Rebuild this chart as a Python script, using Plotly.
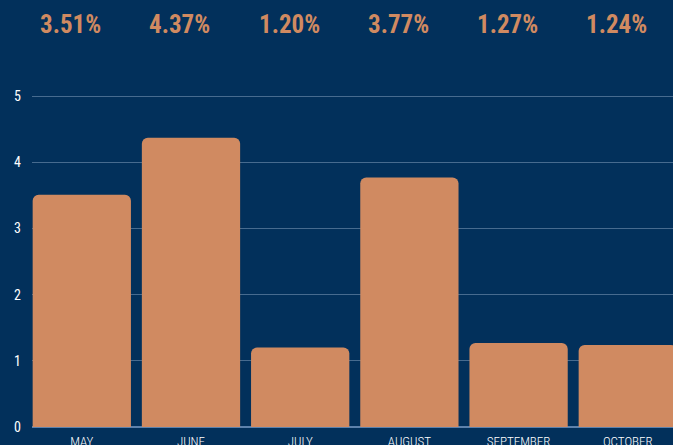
import plotly.graph_objects as go

months = ["MAY", "JUNE", "JULY", "AUGUST", "SEPTEMBER", "OCTOBER"]
values = [3.51, 4.37, 1.20, 3.77, 1.27, 1.24]
labels = ["3.51%", "4.37%", "1.20%", "3.77%", "1.27%", "1.24%"]
y_ticks = [0, 1, 2, 3, 4, 5]

BG = "#02305B"
BAR = "#D08A61"
FONT = "Roboto Condensed, DejaVu Sans Condensed, Liberation Sans Narrow, Roboto, sans-serif"

fig = go.Figure(go.Bar(x=months, y=values, marker=dict(color=BAR, line=dict(width=0)),
                       hoverinfo="skip"))

for m, lab in zip(months, labels):
    fig.add_annotation(x=m, y=1, xref="x", yref="paper", yanchor="middle",
                       yshift=39, xshift=-11, text=lab, showarrow=False,
                       font=dict(family=FONT, size=25, color=BAR, weight="bold"))

fig.update_layout(
    width=673, height=445,
    margin=dict(l=32, r=0, t=63, b=18),
    paper_bgcolor=BG, plot_bgcolor=BG,
    bargap=0.1, barcornerradius=6,
    showlegend=False,
    font=dict(family=FONT, color="#E8EDF3", size=13),
)
fig.update_xaxes(range=[-0.456, 5.414], showgrid=False, showline=False,
                 zeroline=False, ticks="", ticklabelstandoff=5,
                 tickfont=dict(size=13, color="#FFFFFF", weight=300),
                 automargin=False)
fig.update_yaxes(range=[0, 5.5], tickvals=y_ticks, showgrid=True,
                 gridcolor="rgba(140,165,195,0.5)", gridwidth=1,
                 zeroline=True, zerolinecolor="#5E82AC", zerolinewidth=2,
                 showline=False, ticks="", ticklabelstandoff=10,
                 tickfont=dict(size=14, color="#FFFFFF"), automargin=False)

fig.write_html("out.html", config={"displayModeBar": False},
               post_script="document.body.style.margin='0';document.body.style.overflow='hidden';document.body.style.background='%s';" % BG)
